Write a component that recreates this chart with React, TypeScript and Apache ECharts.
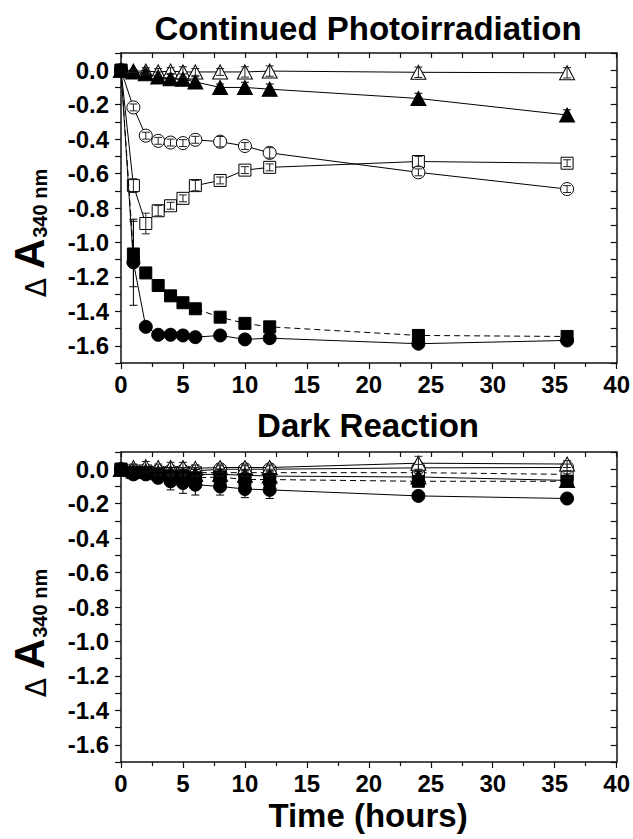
import React, { useEffect, useRef } from "react";
import * as echarts from "echarts";

// ---------- data ----------
const times = [0, 1, 2, 3, 4, 5, 6, 8, 10, 12, 24, 36];

// Continued photoirradiation
const photoOpenTri = [0, -0.005, -0.005, -0.01, -0.005, -0.01, -0.01, -0.01, -0.01, -0.005, -0.012, -0.015];
const photoOpenTriErr = [0.005, 0.01, 0.02, 0.02, 0.02, 0.03, 0.02, 0.02, 0.03, 0.03, 0.03, 0.03];
const photoFillTri = [0, -0.01, -0.02, -0.04, -0.05, -0.052, -0.068, -0.1, -0.1, -0.11, -0.164, -0.26];
const photoFillTriErr = [0.005, 0.01, 0.02, 0.03, 0.03, 0.03, 0.03, 0.02, 0.03, 0.03, 0.03, 0.03];
const photoOpenCirc = [0, -0.216, -0.38, -0.41, -0.42, -0.423, -0.404, -0.415, -0.44, -0.48, -0.593, -0.69];
const photoOpenCircErr = [0, 0.02, 0.02, 0.02, 0.02, 0.02, 0.02, 0.03, 0.02, 0.03, 0.02, 0.02];
const photoOpenSq = [0, -0.67, -0.89, -0.816, -0.787, -0.744, -0.67, -0.64, -0.58, -0.564, -0.53, -0.54];
const photoOpenSqErr = [0, 0.04, 0.06, 0.03, 0.02, 0.02, 0.03, 0.02, 0.02, 0.02, 0.03, 0.02];
const photoFillSq = [0, -1.067, -1.177, -1.25, -1.31, -1.35, -1.385, -1.434, -1.47, -1.49, -1.54, -1.546];
const photoFillSqErr = [0, 0.19, 0.02, 0.02, 0.02, 0.02, 0.02, 0.02, 0.02, 0.02, 0.02, 0.02];
const photoFillCirc = [0, -1.115, -1.49, -1.536, -1.536, -1.54, -1.55, -1.54, -1.563, -1.556, -1.588, -1.569];
const photoFillCircErr = [0, 0.25, 0.02, 0.02, 0.02, 0.02, 0.02, 0.02, 0.02, 0.02, 0.02, 0.02];

// Dark reaction
const darkOpenTri = [0, 0.01, 0.015, 0.01, 0.01, 0.01, 0.005, 0.01, 0.01, 0.01, 0.035, 0.03];
const darkOpenTriErr = [0.01, 0.02, 0.03, 0.02, 0.03, 0.03, 0.02, 0.02, 0.02, 0.02, 0.04, 0.02];
const darkOpenCirc = [0, -0.01, -0.01, -0.01, -0.01, -0.01, -0.01, 0.0, 0.0, 0.0, 0.008, 0.01];
const darkOpenCircErr = [0.01, 0.02, 0.02, 0.02, 0.02, 0.02, 0.02, 0.02, 0.02, 0.02, 0.02, 0.02];
const darkOpenSq = [0, -0.01, -0.01, -0.02, -0.02, -0.02, -0.02, -0.02, -0.02, -0.02, -0.02, -0.03];
const darkOpenSqErr = [0.01, 0.02, 0.02, 0.02, 0.02, 0.02, 0.02, 0.02, 0.02, 0.02, 0.02, 0.02];
const darkFillTri = [0, -0.01, -0.01, -0.02, -0.02, -0.03, -0.03, -0.03, -0.035, -0.04, -0.045, -0.065];
const darkFillTriErr = [0.01, 0.02, 0.02, 0.02, 0.03, 0.03, 0.03, 0.03, 0.03, 0.03, 0.03, 0.03];
const darkFillSq = [0, -0.02, -0.02, -0.03, -0.04, -0.04, -0.05, -0.045, -0.06, -0.06, -0.07, -0.07];
const darkFillSqErr = [0.01, 0.02, 0.02, 0.02, 0.03, 0.03, 0.03, 0.03, 0.03, 0.03, 0.03, 0.03];
const darkFillCirc = [0, -0.03, -0.03, -0.05, -0.07, -0.08, -0.09, -0.1, -0.115, -0.12, -0.155, -0.17];
const darkFillCircErr = [0.01, 0.02, 0.02, 0.03, 0.05, 0.06, 0.06, 0.05, 0.05, 0.05, 0.02, 0.02];

const titleTop = "Continued Photoirradiation";
const titleBottom = "Dark Reaction";
const xTitle = "Time (hours)";

const FONT = "'Liberation Sans', Arial, sans-serif";

type Spec = { ys: number[]; es: number[]; symbol: string; filled: boolean; dashed?: boolean; size: number | number[] };

const photoSpecs: Spec[] = [
  { ys: photoOpenSq, es: photoOpenSqErr, symbol: "rect", filled: false, size: 12 },
  { ys: photoOpenCirc, es: photoOpenCircErr, symbol: "circle", filled: false, size: 13 },
  { ys: photoOpenTri, es: photoOpenTriErr, symbol: "triangle", filled: false, size: [15, 14] },
  { ys: photoFillTri, es: photoFillTriErr, symbol: "triangle", filled: true, size: [15, 14] },
  { ys: photoFillSq, es: photoFillSqErr, symbol: "rect", filled: true, dashed: true, size: 12 },
  { ys: photoFillCirc, es: photoFillCircErr, symbol: "circle", filled: true, size: 13 },
];
const darkSpecs: Spec[] = [
  { ys: darkOpenSq, es: darkOpenSqErr, symbol: "rect", filled: false, dashed: true, size: 12 },
  { ys: darkOpenCirc, es: darkOpenCircErr, symbol: "circle", filled: false, size: 13 },
  { ys: darkOpenTri, es: darkOpenTriErr, symbol: "triangle", filled: false, size: [15, 14] },
  { ys: darkFillTri, es: darkFillTriErr, symbol: "triangle", filled: true, size: [15, 14] },
  { ys: darkFillSq, es: darkFillSqErr, symbol: "rect", filled: true, dashed: true, size: 12 },
  { ys: darkFillCirc, es: darkFillCircErr, symbol: "circle", filled: true, size: 13 },
];

function makeSeries(specs: Spec[], xi: number, yi: number) {
  const out: any[] = [];
  specs.forEach((s, k) => {
    out.push({
      type: "line",
      xAxisIndex: xi,
      yAxisIndex: yi,
      data: times.map((t, i) => [t, s.ys[i]]),
      symbol: s.symbol,
      symbolSize: s.size,
      showAllSymbol: true,
      lineStyle: { color: "#000", width: 1, type: s.dashed ? [6, 4] : "solid" },
      itemStyle: { color: s.filled ? "#000" : "#fff", borderColor: "#000", borderWidth: 1, opacity: 1 },
      z: 3 + k,
      silent: true,
    });
    out.push({
      type: "custom",
      xAxisIndex: xi,
      yAxisIndex: yi,
      data: times.map((t, i) => [t, s.ys[i], s.es[i]]),
      encode: { x: 0, y: 1 },
      silent: true,
      z: 10,
      renderItem: (params: any, api: any) => {
        const x = api.value(0);
        const y = api.value(1);
        const e = api.value(2);
        const p1 = api.coord([x, y + e]);
        const p2 = api.coord([x, y - e]);
        const w = 4;
        const st = { stroke: s.filled ? "#000" : "#222", lineWidth: 1 };
        return {
          type: "group",
          children: [
            { type: "line", shape: { x1: p1[0], y1: p1[1], x2: p2[0], y2: p2[1] }, style: st },
            { type: "line", shape: { x1: p1[0] - w, y1: p1[1], x2: p1[0] + w, y2: p1[1] }, style: st },
            { type: "line", shape: { x1: p2[0] - w, y1: p2[1], x2: p2[0] + w, y2: p2[1] }, style: st },
          ],
        };
      },
    });
  });
  return out;
}

const axisLineStyle = { color: "#111", width: 1.5 };
const labelStyle = { color: "#000", fontFamily: FONT, fontWeight: "bold" as const, fontSize: 24 };

function xAxes(gridIndex: number) {
  return [
    {
      type: "value", gridIndex, position: "bottom", min: 0, max: 40, interval: 5,
      axisLine: { show: true, onZero: false, lineStyle: axisLineStyle },
      axisTick: { show: true, inside: false, length: 6, lineStyle: { color: "#111", width: 1.2 } },
      minorTick: { show: true, splitNumber: 2, length: 4, lineStyle: { color: "#111", width: 1.2 } },
      axisLabel: { ...labelStyle, margin: 9 },
      splitLine: { show: false },
    },
    {
      type: "value", gridIndex, position: "top", min: 0, max: 40, interval: 2.5,
      axisLine: { show: true, onZero: false, lineStyle: axisLineStyle },
      axisTick: { show: true, inside: true, length: 5, lineStyle: { color: "#111", width: 1.2 } },
      axisLabel: { show: false },
      splitLine: { show: false },
    },
  ];
}

function yAxes(gridIndex: number) {
  return [
    {
      type: "value", gridIndex, position: "left", min: -1.7, max: 0.1, interval: 0.1,
      axisLine: { show: true, onZero: false, lineStyle: axisLineStyle },
      axisTick: { show: true, inside: false, length: 6, lineStyle: { color: "#111", width: 1.2 } },
      axisLabel: {
        ...labelStyle, margin: 12,
        formatter: (v: number) => {
          const k = Math.round(v * 10);
          if (k % 2 !== 0) return "";
          return (k / 10).toFixed(1);
        },
      },
      splitLine: { show: false },
    },
    {
      type: "value", gridIndex, position: "right", min: -1.7, max: 0.1, interval: 0.1,
      axisLine: { show: true, onZero: false, lineStyle: axisLineStyle },
      axisTick: { show: true, inside: true, length: 6, lineStyle: { color: "#111", width: 1.2 } },
      axisLabel: { show: false },
      splitLine: { show: false },
    },
  ];
}

function yTitle(cx: number, cy: number) {
  return {
    type: "text",
    x: cx,
    y: cy,
    rotation: Math.PI / 2,
    style: {
      text: "{d|Δ }{a|A}{s|340 nm}",
      align: "center",
      verticalAlign: "middle",
      fill: "#000",
      rich: {
        d: { fontFamily: "'DejaVu Sans', sans-serif", fontSize: 28, fontWeight: "normal", fill: "#000", verticalAlign: "bottom", lineHeight: 40 },
        a: { fontFamily: FONT, fontSize: 42, fontWeight: "bold", fill: "#000", verticalAlign: "bottom", lineHeight: 40 },
        s: { fontFamily: FONT, fontSize: 20, fontWeight: "bold", fill: "#000", verticalAlign: "bottom", lineHeight: 40, padding: [0, 0, 0, 1] },
      },
    },
  };
}

export default function App() {
  const ref = useRef<HTMLDivElement>(null);
  useEffect(() => {
    if (!ref.current) return;
    const chart = echarts.init(ref.current, undefined, { renderer: "svg" });
    chart.setOption({
      animation: false,
      backgroundColor: "#fff",
      grid: [
        { left: 121, top: 53, width: 496, height: 310 },
        { left: 121, top: 452, width: 496, height: 310 },
      ],
      xAxis: [...xAxes(0), ...xAxes(1)],
      yAxis: [...yAxes(0), ...yAxes(1)],
      series: [...makeSeries(photoSpecs, 0, 0), ...makeSeries(darkSpecs, 2, 2)],
      graphic: [
        {
          type: "text", x: 368, y: 28,
          style: { text: titleTop, font: `bold 33px ${FONT}`, fill: "#000", align: "center", verticalAlign: "middle" },
        },
        {
          type: "text", x: 368, y: 425,
          style: { text: titleBottom, font: `bold 33px ${FONT}`, fill: "#000", align: "center", verticalAlign: "middle" },
        },
        {
          type: "text", x: 368, y: 815,
          style: { text: xTitle, font: `bold 33px ${FONT}`, fill: "#000", align: "center", verticalAlign: "middle" },
        },
        yTitle(30, 233),
        yTitle(30, 633),
      ],
    });
    return () => chart.dispose();
  }, []);
  return <div ref={ref} style={{ width: 633, height: 839, position: "absolute", left: 0, top: 0 }} />;
}
